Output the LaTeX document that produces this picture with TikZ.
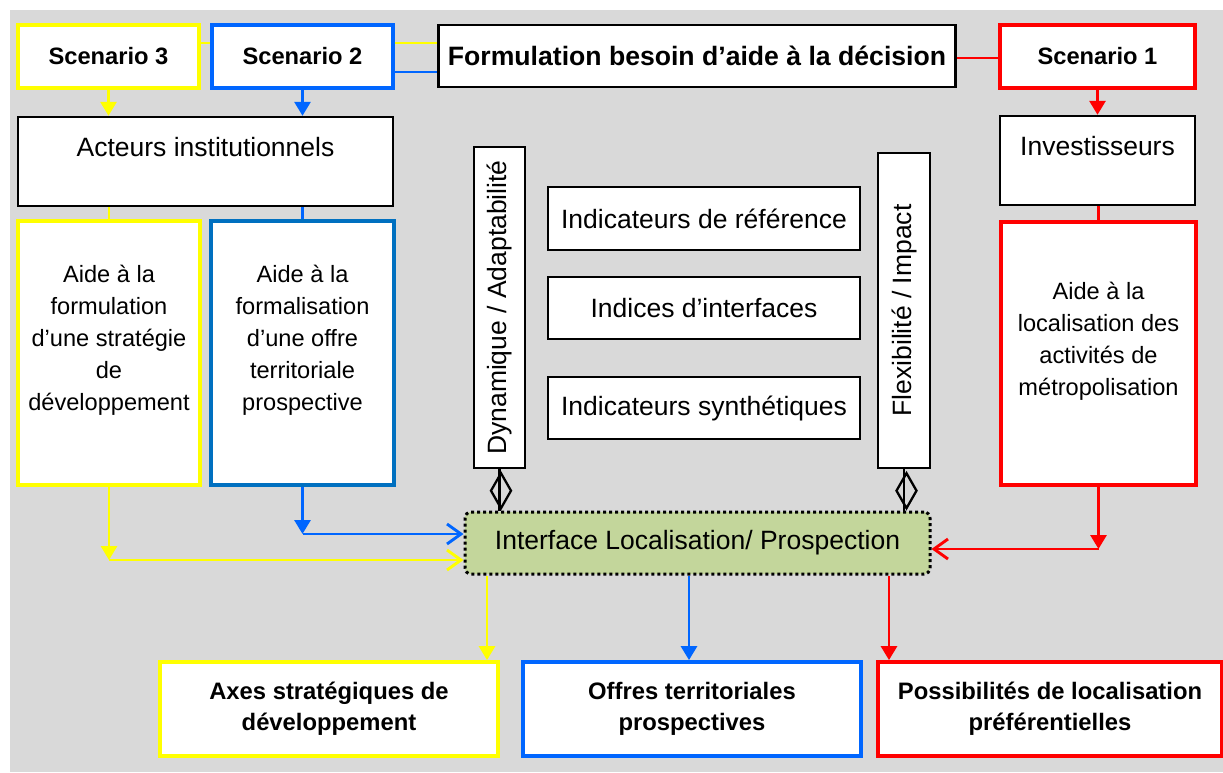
\documentclass[tikz,border=0pt]{standalone}
\usepackage{fontspec}
\setmainfont{Liberation Sans}
\usetikzlibrary{arrows.meta,calc}
\definecolor{cyel}{HTML}{FFFF00}
\definecolor{cblu}{HTML}{0066FF}
\definecolor{cblud}{HTML}{0070C0}
\definecolor{cred}{HTML}{FF0000}
\definecolor{cgray}{HTML}{D9D9D9}
\definecolor{cgreen}{HTML}{C3D69B}
\begin{document}
\begin{tikzpicture}[x=1pt,y=-1pt,
 box/.style={draw, fill=white, inner sep=0pt, align=center},
 cbox/.style={box, line width=3.8pt},
 kbox/.style={box, line width=2.4pt},
 big/.style={font=\fontsize{26.5}{32}\selectfont},
 aid/.style={font=\fontsize{23.6}{32}\selectfont},
 sc/.style={font=\fontsize{23.7}{28}\selectfont\bfseries},
 bot/.style={font=\fontsize{23.8}{31}\selectfont\bfseries},
 conn/.style={line width=2.9pt},
 tip/.style={conn, -{Triangle[length=14pt,width=16pt]}},
 otip/.style={conn, -{Straight Barb[length=14pt,width=20pt]}},
 diam/.style={line width=2.3pt, black},
]
\useasboundingbox (0,0) rectangle (1223,772);
\fill[white] (0,0) rectangle (1223,772);
\fill[cgray] (10,10) rectangle (1223,772);

% top row
\node[cbox, draw=cyel, sc, minimum width=181, minimum height=63] (s3) at (108.5,56.5) {Scenario 3};
\node[cbox, draw=cblu, sc, minimum width=181, minimum height=63] (s2) at (302.5,56.5) {Scenario 2};
\node[kbox, font=\fontsize{26.6}{30}\selectfont\bfseries, minimum width=517, minimum height=62] (form) at (697,56) {Formulation besoin d’aide à la décision};
\node[cbox, draw=cred, sc, minimum width=195, minimum height=63] (s1) at (1097.5,56.5) {Scenario 1};

% actors
\node[kbox, big, minimum width=375, minimum height=89] (act) at (205.5,161.5) {Acteurs institutionnels\\[-12pt]\strut};
\node[kbox, big, minimum width=195, minimum height=89] (inv) at (1097.5,160.5) {Investisseurs\\[-12pt]\strut};

% aide boxes
\node[cbox, draw=cyel, aid, minimum width=182, minimum height=264] (a3) at (109,353) {Aide à la\\formulation\\d’une stratégie\\de\\développement\\[-12pt]\strut};
\node[cbox, draw=cblud, aid, minimum width=183, minimum height=264] (a2) at (302.5,353) {Aide à la\\formalisation\\d’une offre\\territoriale\\prospective\\[-12pt]\strut};
\node[cbox, draw=cred, aid, minimum width=195, minimum height=263] (a1) at (1098.5,353.5) {Aide à la\\localisation des\\activités de\\métropolisation\\[-12pt]\strut};

% middle column
\node[kbox, big, minimum width=51, minimum height=321] (dyn) at (499.5,307.5) {\rotatebox{90}{Dynamique / Adaptabilité}};
\node[kbox, big, minimum width=52, minimum height=315] (flex) at (904,310.5) {\rotatebox{90}{Flexibilité / Impact}};
\node[kbox, big, minimum width=312, minimum height=63] (i1) at (704,218.5) {Indicateurs de référence};
\node[kbox, big, minimum width=312, minimum height=62] (i2) at (704,308) {Indices d’interfaces};
\node[kbox, big, minimum width=312, minimum height=62] (i3) at (704,408) {Indicateurs synthétiques};

% interface
\node[draw, fill=cgreen, big, line width=3pt, dash pattern=on 3pt off 3pt, rounded corners=6pt, inner sep=0pt, minimum width=465, minimum height=62] (iface) at (697.5,543) {Interface Localisation/ Prospection};

% bottom boxes
\node[cbox, draw=cyel, bot, minimum width=338, minimum height=94] (axes) at (329,709) {Axes stratégiques de\\développement};
\node[cbox, draw=cblu, bot, minimum width=338, minimum height=94] (offres) at (692,709) {Offres territoriales\\prospectives};
\node[cbox, draw=cred, bot, minimum width=344, minimum height=94] (poss) at (1050,709) {Possibilités de localisation\\préférentielles};

% top connectors
\draw[conn, cyel] (s3.east |- 0,43) -- (s2.west |- 0,43);
\draw[conn, cyel] (s2.east |- 0,43) -- (form.west |- 0,43);
\draw[conn, cblu] (s2.east |- 0,72) -- (form.west |- 0,72);
\draw[conn, cred] (form.east |- 0,58) -- (s1.west |- 0,58);

\draw[tip, cyel] (s3.south) -- (s3.south |- act.north);
\draw[tip, cblu] (s2.south) -- (s2.south |- act.north);
\draw[tip, cred] (s1.south) -- (s1.south |- inv.north);

\draw[conn, cyel] (a3.north |- act.south) -- (a3.north);
\draw[conn, cblu] (a2.north |- act.south) -- (a2.north);
\draw[conn, cred] (a1.north |- inv.south) -- (a1.north);

% into interface
\coordinate (c3) at (a3.south |- 0,560);
\coordinate (c2) at (a2.south |- 0,534);
\coordinate (c1) at (a1.south |- 0,549);
\draw[tip, cyel] (a3.south) -- (c3);
\draw[otip, cyel] (c3) -- (c3 -| iface.west);
\draw[tip, cblu] (a2.south) -- (c2);
\draw[otip, cblu] (c2) -- (c2 -| iface.west);
\draw[tip, cred] (a1.south) -- (c1);
\draw[otip, cred] (c1) -- (c1 -| iface.east);

% out of interface
\coordinate (o3) at (487,0);
\coordinate (o2) at (689,0);
\coordinate (o1) at (889,0);
\draw[tip, cyel] (iface.south -| o3) -- (axes.north -| o3);
\draw[tip, cblu] (iface.south -| o2) -- (offres.north -| o2);
\draw[tip, cred] (iface.south -| o1) -- (poss.north -| o1);

% diamonds
\draw[diam] (dyn.south) -- (dyn.south |- iface.north);
\draw[diam] ($(dyn.south)+(1.5,4)$) -- ++(10,17.5) -- ++(-10,17.5) -- ++(-10,-17.5) -- cycle;
\draw[diam] (flex.south) -- (flex.south |- iface.north);
\draw[diam] ($(flex.south)+(2.5,4)$) -- ++(10,17.5) -- ++(-10,17.5) -- ++(-10,-17.5) -- cycle;
\end{tikzpicture}
\end{document}
